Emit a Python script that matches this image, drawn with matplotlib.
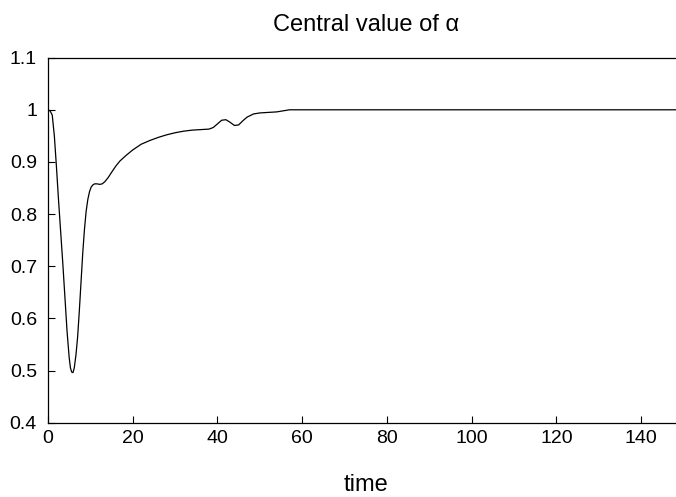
import matplotlib
matplotlib.use("Agg")
import matplotlib.pyplot as plt

plt.rcParams['font.family'] = ['Liberation Sans', 'DejaVu Sans']

# === Data
time = [0.0, 0.5, 1.0, 1.5, 2.0, 2.5, 3.0, 3.5, 4.0, 4.5, 5.0, 5.3, 5.6, 5.9,
        6.2, 6.6, 7.0, 7.4, 7.8, 8.2, 8.6, 9.0, 9.4, 9.8, 10.2, 10.6, 11.0,
        11.6, 12.2, 12.8, 13.4, 14.2, 15.0, 16.0, 17.0, 18.5, 20.0, 22.0,
        24.0, 26.0, 28.0, 30.0, 32.0, 34.0, 36.0, 38.0, 39.0, 40.0, 41.0,
        42.0, 43.0, 44.0, 45.0, 46.0, 47.0, 48.5, 50.0, 52.0, 54.0, 55.5,
        57.0, 60.0, 80.0, 100.0, 120.0, 140.0, 150.0]
alpha = [1.000, 0.998, 0.990, 0.950, 0.890, 0.825, 0.765, 0.705, 0.640, 0.575,
         0.525, 0.505, 0.497, 0.496, 0.505, 0.530, 0.565, 0.615, 0.670, 0.725,
         0.770, 0.805, 0.828, 0.843, 0.852, 0.856, 0.858, 0.858, 0.857, 0.858,
         0.862, 0.870, 0.880, 0.892, 0.902, 0.913, 0.923, 0.934, 0.941, 0.947,
         0.952, 0.956, 0.959, 0.961, 0.962, 0.963, 0.966, 0.973, 0.980, 0.981,
         0.976, 0.970, 0.971, 0.979, 0.986, 0.992, 0.994, 0.995, 0.996, 0.998,
         1.000, 1.000, 1.000, 1.000, 1.000, 1.000, 1.000]

xticks = [0, 20, 40, 60, 80, 100, 120, 140]
yticks = [0.4, 0.5, 0.6, 0.7, 0.8, 0.9, 1.0, 1.1]
ytick_labels = ['0.4', '0.5', '0.6', '0.7', '0.8', '0.9', '1', '1.1']

# === Figure
fig = plt.figure(figsize=(6.76, 4.97), dpi=100)
ax = fig.add_axes([0.071, 0.1495, 0.94, 0.7345])

ax.plot(time, alpha, color='black', linewidth=0.9)

ax.set_xlim(0, 150)
ax.set_ylim(0.4, 1.1)
ax.set_xticks(xticks)
ax.set_yticks(yticks)
ax.set_yticklabels(ytick_labels)
ax.tick_params(direction='in', length=5, labelsize=14, width=0.8)
ax.tick_params(axis='y', pad=8)
ax.tick_params(axis='x', pad=5)
for s in ax.spines.values():
    s.set_linewidth(0.9)

ax.set_title('Central value of \u03b1', fontsize=17, pad=19)
ax.set_xlabel('time', fontsize=17, labelpad=20)

plt.savefig('out.png', dpi=100)
